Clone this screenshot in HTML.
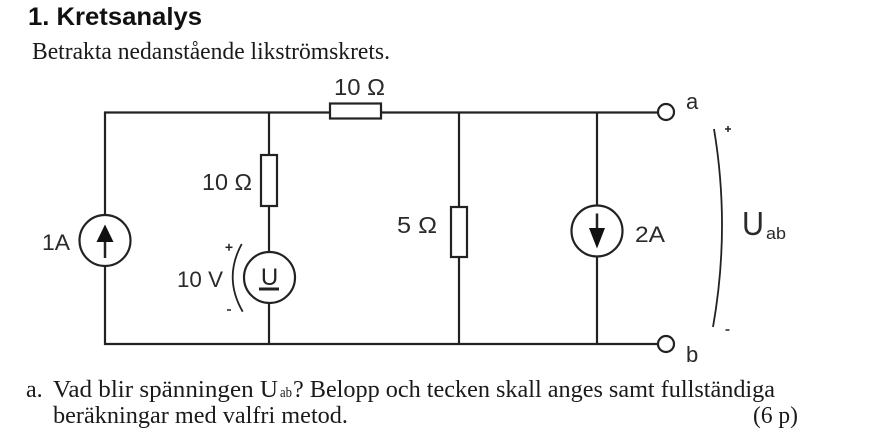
<!DOCTYPE html>
<html>
<head>
<meta charset="utf-8">
<style>
  html, body { margin: 0; padding: 0; background: #ffffff; }
  body { width: 892px; height: 436px; overflow: hidden; }
  svg { display: block; }
</style>
</head>
<body>
<svg width="892" height="436" viewBox="0 0 892 436" xmlns="http://www.w3.org/2000/svg">
  <rect width="892" height="436" fill="#ffffff"/>

  <!-- Title -->
  <text x="28" y="25" font-family="Liberation Sans, Arial, sans-serif" font-weight="bold" font-size="25" fill="#111" textLength="174" lengthAdjust="spacingAndGlyphs">1. Kretsanalys</text>
  <text x="32" y="59" font-family="Liberation Serif, 'Times New Roman', serif" font-size="24" fill="#1a1a1a" textLength="358" lengthAdjust="spacingAndGlyphs">Betrakta nedanstående likströmskrets.</text>

  <!-- Wires -->
  <g stroke="#222" stroke-width="2.2" fill="none">
    <line x1="104" y1="112.5" x2="658" y2="112.5"/>
    <line x1="104" y1="344" x2="658" y2="344"/>
    <line x1="105" y1="111.5" x2="105" y2="345"/>
    <line x1="269" y1="112.5" x2="269" y2="344"/>
    <line x1="459" y1="112.5" x2="459" y2="344"/>
    <line x1="597" y1="112.5" x2="597" y2="344"/>
  </g>

  <!-- Resistors -->
  <g stroke="#222" stroke-width="2.2" fill="#ffffff">
    <rect x="330" y="103.5" width="51" height="15"/>
    <rect x="261" y="155" width="16" height="51"/>
    <rect x="451" y="207" width="16" height="50"/>
  </g>

  <!-- Current source 1A -->
  <circle cx="105" cy="240.5" r="25.5" stroke="#222" stroke-width="2.2" fill="#fff"/>
  <line x1="105" y1="238" x2="105" y2="258" stroke="#222" stroke-width="2.5"/>
  <polygon points="105,224.5 96.5,242 113.5,242" fill="#111"/>

  <!-- Voltage source -->
  <circle cx="269.5" cy="277.5" r="25.5" stroke="#222" stroke-width="2.2" fill="#fff"/>
  <text x="269.5" y="285" text-anchor="middle" font-family="Liberation Sans, Arial, sans-serif" font-size="24" fill="#222">U</text>
  <rect x="259" y="287.5" width="20" height="3" fill="#222"/>
  <path d="M241.7 244 Q223.2 278 242.7 311.7" stroke="#222" stroke-width="1.8" fill="none"/>
  <g stroke="#222" stroke-width="1.5">
    <line x1="225.5" y1="247.3" x2="232.5" y2="247.3"/>
    <line x1="229" y1="243.8" x2="229" y2="250.8"/>
    <line x1="227" y1="310" x2="231" y2="310"/>
  </g>

  <!-- Current source 2A -->
  <circle cx="597" cy="231" r="25.5" stroke="#222" stroke-width="2.2" fill="#fff"/>
  <line x1="597" y1="213.5" x2="597" y2="231" stroke="#222" stroke-width="2.5"/>
  <polygon points="589,228 605,228 597,248.5" fill="#111"/>

  <!-- Terminals -->
  <circle cx="666" cy="112" r="8" stroke="#222" stroke-width="2.2" fill="#fff"/>
  <circle cx="666" cy="344" r="8" stroke="#222" stroke-width="2.2" fill="#fff"/>

  <!-- Uab bracket -->
  <path d="M714 129 Q730.5 228 713 327" stroke="#222" stroke-width="1.8" fill="none"/>
  <g stroke="#222" stroke-width="1.5">
    <line x1="725" y1="129" x2="731" y2="129"/>
    <line x1="728" y1="126" x2="728" y2="132"/>
    <line x1="725.5" y1="330" x2="729.5" y2="330"/>
  </g>

  <!-- Circuit labels -->
  <g font-family="Liberation Sans, Arial, sans-serif" fill="#2a2a2a">
    <text x="334" y="95" font-size="23" textLength="51" lengthAdjust="spacingAndGlyphs">10 Ω</text>
    <text x="202" y="190" font-size="23" textLength="50" lengthAdjust="spacingAndGlyphs">10 Ω</text>
    <text x="42" y="250" font-size="22" textLength="28" lengthAdjust="spacingAndGlyphs">1A</text>
    <text x="177" y="287" font-size="22" textLength="46" lengthAdjust="spacingAndGlyphs">10 V</text>
    <text x="397" y="233" font-size="23" textLength="40" lengthAdjust="spacingAndGlyphs">5 Ω</text>
    <text x="635" y="242" font-size="22" textLength="30" lengthAdjust="spacingAndGlyphs">2A</text>
    <text x="686" y="109" font-size="22">a</text>
    <text x="686" y="362" font-size="22">b</text>
    <text x="742" y="235" font-size="33" textLength="22" lengthAdjust="spacingAndGlyphs">U</text>
    <text x="766" y="239" font-size="17" textLength="20" lengthAdjust="spacingAndGlyphs">ab</text>
  </g>

  <!-- Question text -->
  <g font-family="Liberation Serif, 'Times New Roman', serif" fill="#1a1a1a">
    <text x="26" y="397" font-size="24">a.</text>
    <text x="53" y="397" font-size="24" textLength="225" lengthAdjust="spacingAndGlyphs">Vad blir spänningen U</text>
    <text x="280" y="397" font-size="15" textLength="12" lengthAdjust="spacingAndGlyphs">ab</text>
    <text x="293" y="397" font-size="24" textLength="482" lengthAdjust="spacingAndGlyphs">? Belopp och tecken skall anges samt fullständiga</text>
    <text x="53" y="423" font-size="24" textLength="295" lengthAdjust="spacingAndGlyphs">beräkningar med valfri metod.</text>
    <text x="753" y="423" font-size="24" textLength="45" lengthAdjust="spacingAndGlyphs">(6 p)</text>
  </g>
</svg>
</body>
</html>
